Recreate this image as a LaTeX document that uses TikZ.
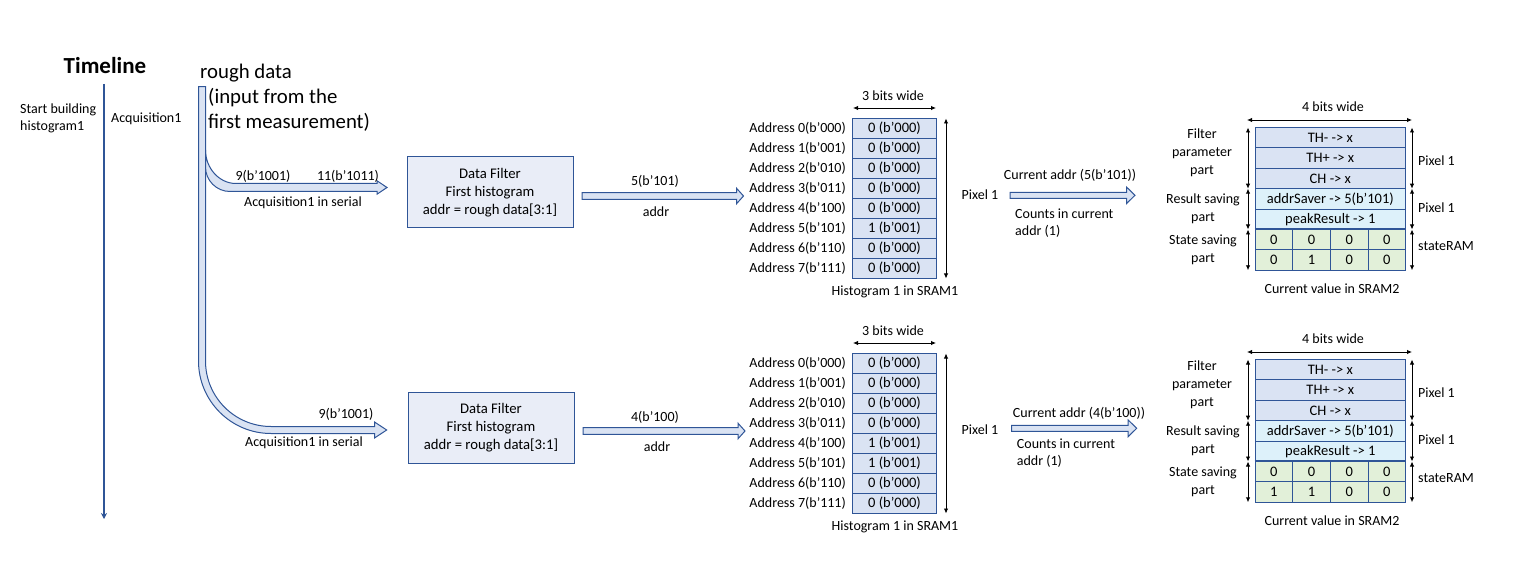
\documentclass[tikz,border=0pt]{standalone}
\usepackage{fontspec}
\setmainfont{Carlito}
\usetikzlibrary{arrows.meta}
\definecolor{bd}{HTML}{2F5597}
\definecolor{fa}{HTML}{DAE3F3}
\definecolor{fr}{HTML}{DDF1FA}
\definecolor{fg}{HTML}{E2F0D9}
\definecolor{fbx}{HTML}{E9EDF7}
\newcommand\fsS{\fontsize{14}{17}\selectfont}
\newcommand\fsC{\fontsize{14.5}{17}\selectfont}
\newcommand\blkarrow[6]{%
  \draw[blk] (#1,{#3-#4}) -- ({#2-#6},{#3-#4}) -- ({#2-#6},{#3-#5}) -- (#2,#3)
    -- ({#2-#6},{#3+#5}) -- ({#2-#6},{#3+#4}) -- (#1,{#3+#4}) -- cycle;}
\newcommand\histo[3]{%
  \foreach \i/\b in {0/000,1/001,2/010,3/011,4/100,5/101,6/110,7/111}{
    \node[hcell] (#1r\i) at (894.5,{128.5+20*\i})
      {\ifnum\i=4 #2\else\ifnum\i=5 #3\else 0 (b’000)\fi\fi};
    \node[lbl, anchor=east] (#1a\i) at (846,{128.5+20*\i}) {Address \i(b’\b)};
  }
  \coordinate (#1wl) at (853,108);
  \coordinate (#1wr) at (936,108);
  \draw[dim] (#1wl) -- (#1wr);
  \node[lbl] (#1w) at (893,96) {3 bits wide};
  \coordinate (#1vt) at (946,118.5);
  \coordinate (#1vb) at (946,278.5);
  \draw[dim] (#1vt) -- (#1vb);
  \node[lbl] (#1p) at (980,195) {Pixel 1};
  \node[lbl] (#1cap) at (895,292) {Histogram 1 in SRAM1};
}
\newcommand\sramtwo[5]{%
  \node[scell, fill=fa] (#1f1) at (1330.35,137.7) {TH- -> x};
  \node[scell, fill=fa] (#1f2) at (1330.35,158.1) {TH+ -> x};
  \node[scell, fill=fa] (#1f3) at (1330.35,178.5) {CH -> x};
  \node[scell, fill=fr] (#1r1) at (1330.35,198.9) {addrSaver -> 5(b’101)};
  \node[scell, fill=fr] (#1r2) at (1330.35,219.3) {peakResult -> 1};
  \foreach \j/\x in {1/1273.84,2/1311.52,3/1349.19,4/1386.87}{
    \node[gcell] (#1sa\j) at (\x,239.7) {0};
  }
  \node[gcell] (#1sb1) at (1273.84,260.1) {#2};
  \node[gcell] (#1sb2) at (1311.52,260.1) {#3};
  \node[gcell] (#1sb3) at (1349.19,260.1) {#4};
  \node[gcell] (#1sb4) at (1386.87,260.1) {#5};
  \draw[bd, line width=1.6pt] (#1sa1.north west) -- (#1sa4.north east);
  \coordinate (#1tl) at (1247,120);
  \coordinate (#1tr) at (1412,120);
  \draw[dim] (#1tl) -- (#1tr);
  \node[lbl] (#1w) at (1333,107) {4 bits wide};
  \foreach \s/\x in {L/1248,R/1412}{
    \coordinate (#1\s0) at (\x,127.5);
    \coordinate (#1\s1) at (\x,188.7);
    \coordinate (#1\s2) at (\x,229.5);
    \coordinate (#1\s3) at (\x,270.3);
    \draw[dim] (#1\s0) -- (#1\s1);
    \draw[dim] (#1\s1) -- (#1\s2);
    \draw[dim] (#1\s2) -- (#1\s3);
  }
  \node[lbl, align=center, font=\fontsize{14}{18}\selectfont] (#1lf) at (1202,153) {Filter\\parameter\\part};
  \node[lbl, align=center, font=\fontsize{14}{17.5}\selectfont] (#1lr) at (1203,209) {Result saving\\part};
  \node[lbl, align=center, font=\fontsize{14}{17.5}\selectfont] (#1ls) at (1203,250) {State saving\\part};
  \node[lbl, anchor=west] (#1p1) at (1418,160.7) {Pixel 1};
  \node[lbl, anchor=west] (#1p2) at (1418,207.3) {Pixel 1};
  \node[lbl, anchor=west] (#1sr) at (1418,246) {stateRAM};
  \node[lbl] (#1cap) at (1332,289) {Current value in SRAM2};
}
\begin{document}
\begin{tikzpicture}[x=1pt,y=-1pt,
  lbl/.style={font=\fsS, inner sep=0pt, text=black},
  hcell/.style={draw=bd, fill=fa, line width=1pt, minimum width=84pt, minimum height=20pt, inner sep=0pt, font=\fsC},
  scell/.style={draw=bd, line width=1pt, minimum width=150.7pt, minimum height=20.4pt, inner sep=0pt, font=\fsC},
  gcell/.style={draw=bd, fill=fg, line width=1pt, minimum width=37.675pt, minimum height=20.4pt, inner sep=0pt, font=\fsC},
  fbox/.style={draw=bd, fill=fbx, line width=1pt, minimum width=166pt, minimum height=71pt, inner sep=0pt, align=center, font=\fontsize{14.7}{18}\selectfont},
  dim/.style={line width=0.9pt, {Latex[length=5pt,width=4.5pt]}-{Latex[length=5pt,width=4.5pt]}},
  blk/.style={draw=bd, fill=fa, line width=1pt, line join=miter},
  tl/.style={draw=bd, line width=2pt, -{Stealth[length=6pt,width=6pt]}}
]
\useasboundingbox (0,0) rectangle (1515,561);

% Timeline
\node[inner sep=0pt, font=\fontsize{23}{26}\selectfont\bfseries] (tlt) at (105,66) {Timeline};
\coordinate (tl0) at (104,84);
\coordinate (tl1) at (104,519);
\draw[tl] (tl0) -- (tl1);
\node[lbl, anchor=west, align=left, font=\fontsize{14}{17}\selectfont] (sbh) at (20,118.5) {Start building\\histogram1};
\node[lbl, anchor=west] (acq) at (111,119) {Acquisition1};

% rough data
\node[inner sep=0pt, anchor=west, font=\fontsize{20.8}{25}\selectfont] (rd) at (200,73) {rough data};
\node[inner sep=0pt, anchor=west, align=left, font=\fontsize{20.8}{25}\selectfont] (rdi) at (208,110) {(input from the\\first measurement)};

% big arrow: main bar + lower branch
\draw[blk] (198.5,86.7) -- (205.5,86.7) -- (205.5,361)
  .. controls (205.5,397.2) and (234.8,426.5) .. (271,426.5)
  -- (374.5,426.5) -- (374.5,422) -- (386.7,430) -- (374.5,438) -- (374.5,433.5)
  -- (271,433.5) .. controls (231,433.5) and (198.5,401) .. (198.5,361) -- cycle;
% upper branch
\draw[blk] (205.5,150) .. controls (205.5,168) and (219,183.5) .. (236,183.5)
  -- (377,183.5) -- (377,180.8) -- (387,187.5) -- (377,194.2) -- (377,191.5)
  -- (230,191.5) .. controls (216.5,191.5) and (205.5,180.5) .. (205.5,167) -- cycle;

% top row labels
\node[lbl] (u9) at (263,176) {9(b’1001)};
\node[lbl] (u11) at (348,176) {11(b’1011)};
\node[lbl] (uacq) at (303,203) {Acquisition1 in serial};
\node[lbl] (l9) at (346,414) {9(b’1001)};
\node[lbl] (lacq) at (304,443) {Acquisition1 in serial};

% Data filter boxes
\node[fbox] (df1) at (490,192.5) {Data Filter\\First histogram\\addr = rough data[3:1]};
\node[fbox] (df2) at (491,428) {Data Filter\\First histogram\\addr = rough data[3:1]};

% addr arrows
\blkarrow{582}{743.5}{196}{3.3}{7.8}{7}
\node[lbl] (a1t) at (655,181) {5(b’101)};
\node[lbl] (a1b) at (656,212) {addr};
\blkarrow{583}{745}{431}{3.3}{7.8}{7}
\node[lbl] (a2t) at (655,417) {4(b’100)};
\node[lbl] (a2b) at (657,447) {addr};

% histograms
\histo{ha}{0 (b’000)}{1 (b’001)}
\begin{scope}[shift={(0,235)}]
\histo{hb}{1 (b’001)}{1 (b’001)}
\end{scope}

% current addr arrows
\blkarrow{1010}{1135}{195.3}{3}{8.3}{8.5}
\node[lbl] (c1t) at (1070,175) {Current addr (5(b’101))};
\node[lbl, anchor=west, align=left, font=\fontsize{14}{16.5}\selectfont] (c1b) at (1015,223) {Counts in current\\addr (1)};
\blkarrow{1011.7}{1136.7}{428.3}{3}{8.3}{8.5}
\node[lbl] (c2t) at (1079,413) {Current addr (4(b’100))};
\node[lbl, anchor=west, align=left, font=\fontsize{14}{16.5}\selectfont] (c2b) at (1016.7,453.3) {Counts in current\\addr (1)};

% SRAM2 blocks
\sramtwo{sa}{0}{1}{0}{0}
\begin{scope}[shift={(0,232)}]
\sramtwo{sb}{1}{1}{0}{0}
\end{scope}
\end{tikzpicture}
\end{document}
